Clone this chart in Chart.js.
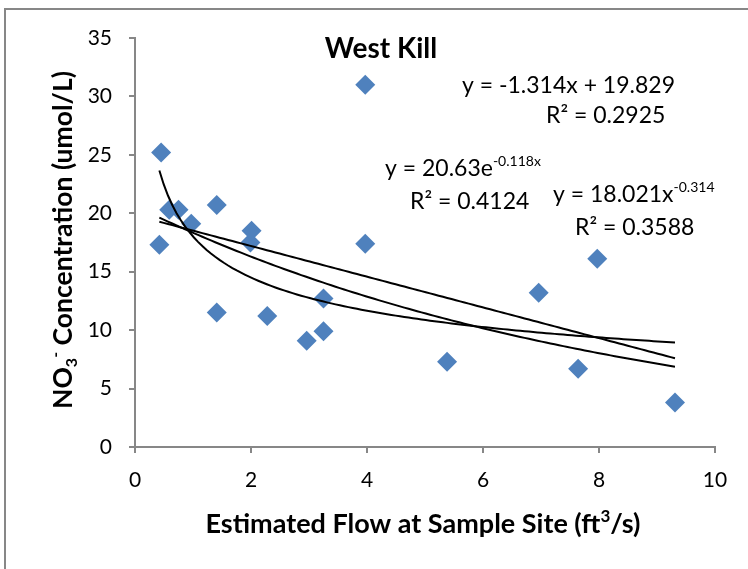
<!DOCTYPE html>
<html>
<head>
<meta charset="utf-8">
<script src="https://cdn.jsdelivr.net/npm/chart.js@4.4.1/dist/chart.umd.min.js"></script>
<style>
  html, body { margin: 0; padding: 0; background: #fff; }
  canvas { display: block; }
</style>
</head>
<body>
<canvas id="flowChart" width="748" height="569"></canvas>
<script>
// West Kill samples: flow (ft3/s) vs NO3- (umol/L)
const flowX = [0.42, 0.45, 0.59, 0.75, 0.97, 1.41, 1.41, 1.99, 2.01, 2.28, 2.96, 3.25, 3.25, 3.97, 3.97, 5.38, 6.96, 7.64, 7.97, 9.31];
const no3Y  = [17.3, 25.2, 20.3, 20.3, 19.1, 20.7, 11.5, 17.5, 18.5, 11.2, 9.1, 12.7, 9.9, 31.0, 17.4, 7.3, 13.2, 6.7, 16.1, 3.8];

// trendline coefficients as printed on the chart
const linearFit = [-1.314, 19.829];   // y = a x + b
const expFit    = [20.63, -0.118];    // y = a e^(b x)
const powerFit  = [18.021, -0.314];   // y = a x^b

const xTicks = [0, 2, 4, 6, 8, 10];
const yTicks = [0, 5, 10, 15, 20, 25, 30, 35];

const FONT = 'Lato, "Open Sans", sans-serif';
const GREY = '#878787';

// sample a fitted curve over the data's x range
function trend(fn) {
    const lo = Math.min.apply(null, flowX), hi = Math.max.apply(null, flowX);
    const pts = [];
    for (let i = 0; i <= 120; i++) {
        const x = lo + (hi - lo) * i / 120;
        pts.push({ x: x, y: fn(x) });
    }
    return pts;
}

// text with super/subscript pieces, runs = [[text, ''|'sup'|'sub'], ...]
function runsWidth(ctx, runs, size, weight) {
    let w = 0;
    runs.forEach(function (r) {
        ctx.font = weight + ' ' + (r[1] ? Math.round(size * 0.62) : size) + 'px ' + FONT;
        w += ctx.measureText(r[0]).width;
    });
    return w;
}
function drawRuns(ctx, runs, x, y, size, weight, align) {
    let cx = x;
    if (align === 'center') cx = x - runsWidth(ctx, runs, size, weight) / 2;
    ctx.textAlign = 'left';
    ctx.textBaseline = 'alphabetic';
    runs.forEach(function (r) {
        const s = r[1] ? Math.round(size * 0.62) : size;
        ctx.font = weight + ' ' + s + 'px ' + FONT;
        let dy = 0;
        if (r[1] === 'sup') dy = -size * 0.42;
        if (r[1] === 'sub') dy = size * 0.2;
        ctx.fillText(r[0], cx, y + dy);
        cx += ctx.measureText(r[0]).width;
    });
}

const labelsPlugin = {
    id: 'labels',
    beforeDraw: function (chart) {
        const ctx = chart.ctx;
        ctx.save();
        ctx.fillStyle = '#fff';
        ctx.fillRect(0, 0, chart.width, chart.height);
        ctx.strokeStyle = GREY;
        ctx.lineWidth = 2;
        ctx.strokeRect(5, 9, 900, 900);
        ctx.restore();
    },
    afterDraw: function (chart) {
        const ctx = chart.ctx;
        ctx.save();
        ctx.fillStyle = '#000';

        drawRuns(ctx, [['West Kill', '']], 381, 58, 28, 'bold', 'center');

        drawRuns(ctx, [['Estimated Flow at Sample Site (ft', ''], ['3', 'sup'], ['/s)', '']], 423, 533, 27, 'bold', 'center');

        ctx.save();
        ctx.translate(72, 240);
        ctx.rotate(-Math.PI / 2);
        drawRuns(ctx, [['NO', ''], ['3', 'sub'], ['-', 'sup'], [' Concentration (umol/L)', '']], 0, 0, 26.5, 'bold', 'center');
        ctx.restore();

        drawRuns(ctx, [['y = -1.314x + 19.829', '']], 462, 93, 23, 'normal', 'left');
        drawRuns(ctx, [['R² = 0.2925', '']], 546, 123, 23, 'normal', 'left');
        drawRuns(ctx, [['y = 20.63e', ''], ['-0.118x', 'sup']], 385, 176, 23, 'normal', 'left');
        drawRuns(ctx, [['R² = 0.4124', '']], 410, 209, 23, 'normal', 'left');
        drawRuns(ctx, [['y = 18.021x', ''], ['-0.314', 'sup']], 553, 202, 23, 'normal', 'left');
        drawRuns(ctx, [['R² = 0.3588', '']], 575, 235, 23, 'normal', 'left');
        ctx.restore();
    }
};

const lineStyle = {
    type: 'line', showLine: true, pointRadius: 0, borderColor: '#000',
    borderWidth: 2, fill: false, tension: 0
};

const chart = new Chart(document.getElementById('flowChart').getContext('2d'), {
    type: 'scatter',
    data: {
        datasets: [
            Object.assign({ label: 'Linear', data: trend(function (x) { return linearFit[0] * x + linearFit[1]; }) }, lineStyle),
            Object.assign({ label: 'Exponential', data: trend(function (x) { return expFit[0] * Math.exp(expFit[1] * x); }) }, lineStyle),
            Object.assign({ label: 'Power', data: trend(function (x) { return powerFit[0] * Math.pow(x, powerFit[1]); }) }, lineStyle),
            {
                label: 'NO3',
                data: flowX.map(function (x, i) { return { x: x, y: no3Y[i] }; }),
                pointStyle: 'rectRot',
                pointRadius: 10,
                backgroundColor: '#4F81BD',
                borderColor: '#4F81BD',
                borderWidth: 0
            }
        ]
    },
    options: {
        responsive: false,
        animation: false,
        layout: { padding: { left: 0, top: 38, right: 33, bottom: 0 } },
        plugins: { legend: { display: false }, tooltip: { enabled: false } },
        scales: {
            x: {
                type: 'linear', min: 0, max: 10,
                afterBuildTicks: function (s) { s.ticks = xTicks.map(function (v) { return { value: v }; }); },
                ticks: { color: '#000', font: { family: FONT, size: 21 }, padding: 15 },
                grid: { drawOnChartArea: false, drawTicks: true, tickLength: 6, color: GREY, lineWidth: 2 },
                border: { color: GREY, width: 2 },
                afterFit: function (s) { s.height = 122; }
            },
            y: {
                type: 'linear', min: 0, max: 35,
                afterBuildTicks: function (s) { s.ticks = yTicks.map(function (v) { return { value: v }; }); },
                ticks: { color: '#000', font: { family: FONT, size: 21 }, padding: 17 },
                grid: { drawOnChartArea: false, drawTicks: true, tickLength: 6, color: GREY, lineWidth: 2 },
                border: { color: GREY, width: 2 },
                afterFit: function (s) { s.width = 135; }
            }
        }
    },
    plugins: [labelsPlugin]
});
</script>
</body>
</html>
